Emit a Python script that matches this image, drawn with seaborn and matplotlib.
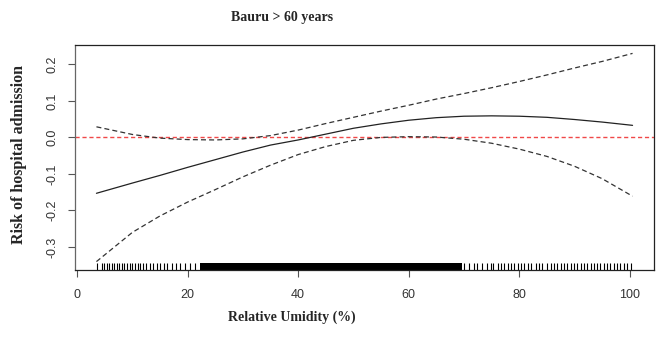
import matplotlib
matplotlib.use("Agg")
import matplotlib.pyplot as plt
import seaborn as sns

# Smoothed effect of relative humidity on hospital admissions (age > 60)
humidity = [3.5, 10, 15, 20, 25, 30, 35, 40, 45, 50, 55, 60, 65, 70,
            75, 80, 85, 90, 95, 100.5]
fit = [-0.153, -0.125, -0.104, -0.082, -0.061, -0.040, -0.021, -0.007,
       0.009, 0.025, 0.037, 0.047, 0.054, 0.058, 0.059, 0.058, 0.055,
       0.049, 0.042, 0.033]
upper = [0.029, 0.008, -0.002, -0.006, -0.007, -0.004, 0.005, 0.020,
         0.038, 0.055, 0.072, 0.088, 0.105, 0.120, 0.136, 0.153, 0.171,
         0.190, 0.208, 0.230]
lower = [-0.340, -0.260, -0.215, -0.177, -0.143, -0.108, -0.076, -0.047,
         -0.025, -0.008, 0.000, 0.002, 0.001, -0.005, -0.016, -0.032,
         -0.052, -0.079, -0.113, -0.161]

# Observed humidity values (rug)
rug_low = [3.55, 4.45, 4.9, 5.35, 5.8, 6.3, 6.7, 7.2, 7.6, 8.1, 8.5, 9.1,
           9.6, 10.0, 10.5, 11.0, 11.4, 12.0, 12.5, 13.1, 13.8, 14.4, 15.0,
           15.7, 16.3, 17.1, 17.9, 18.7, 19.5, 20.4, 21.3]
rug_dense = [23, 24, 25, 26, 27, 28, 29, 30, 31, 32, 33, 34, 35, 36, 37,
             38, 39, 40, 41, 42, 43, 44, 45, 46, 47, 48, 49, 50, 51, 52, 53,
             54, 55, 56, 57, 58, 59, 60, 61, 62, 63, 64, 65, 66, 67, 68, 69]
rug_high = [70.0, 70.9, 71.8, 72.4, 73.3, 74.2, 74.9, 75.3, 76.1, 76.7,
            77.3, 77.9, 78.5, 79.1, 79.7, 80.3, 80.9, 81.6, 82.2, 83.0,
            83.6, 84.2, 85.1, 85.7, 86.3, 86.9, 87.5, 88.1, 88.7, 89.3,
            89.9, 90.5, 91.1, 91.7, 92.3, 92.9, 93.5, 94.1, 94.7, 95.3,
            95.9, 96.5, 97.1, 97.7, 98.3, 98.9, 99.5, 100.2]

x_ticks = [0, 20, 40, 60, 80, 100]
y_ticks = [-0.3, -0.2, -0.1, 0.0, 0.1, 0.2]
y_tick_labels = ["-0.3", "-0.2", "-0.1", "0.0", "0.1", "0.2"]

sns.set_theme(style="white")
plt.rcParams["font.family"] = ["Liberation Sans", "DejaVu Sans"]

fig = plt.figure(figsize=(6.62, 3.38), dpi=100)
ax = fig.add_axes([0.1133, 0.2012, 0.8746, 0.6657])

ax.axhline(0, color="#f04848", lw=1.0, dashes=(3, 2), zorder=1)

sns.lineplot(x=humidity, y=fit, ax=ax, color="#222222", lw=0.9)
sns.lineplot(x=humidity, y=upper, ax=ax, color="#333333", lw=0.9,
             dashes=False).lines[-1].set_dashes((4, 2.5))
sns.lineplot(x=humidity, y=lower, ax=ax, color="#333333", lw=0.9,
             dashes=False).lines[-1].set_dashes((4, 2.5))

sns.rugplot(x=rug_low, ax=ax, height=0.03, color="black", linewidth=0.8)
sns.rugplot(x=rug_high, ax=ax, height=0.03, color="black", linewidth=0.8)
sns.rugplot(x=rug_dense, ax=ax, height=0.03, color="black", linewidth=5.4,
            antialiased=False)

ax.set_xlim(-0.38, 104.38)
ax.set_ylim(-0.363, 0.253)
ax.set_xticks(x_ticks)
ax.set_xticklabels([str(t) for t in x_ticks])
ax.set_yticks(y_ticks)
ax.set_yticklabels(y_tick_labels, rotation=90, va="center")
ax.tick_params(axis="both", which="major", length=5, width=0.8,
               color="#555555", labelcolor="#333333", labelsize=9,
               bottom=True, left=True)
ax.tick_params(axis="x", pad=9)
ax.tick_params(axis="y", pad=7)
for side, sp in ax.spines.items():
    sp.set_color("#222222")
    sp.set_linewidth(0.9)
ax.spines["left"].set_color("#666666")
ax.set_xlabel("")
ax.set_ylabel("")

serif = ["Liberation Serif", "DejaVu Serif"]
fig.text(282 / 662, 1 - 17 / 338, "Bauru > 60 years", ha="center",
         va="center", fontsize=10, fontweight="bold", family=serif)
fig.text(292 / 662, 1 - 317 / 338, "Relative Umidity (%)", ha="center",
         va="center", fontsize=10, fontweight="bold", family=serif)
fig.text(19 / 662, 1 - 155 / 338, "Risk of hospital admission",
         ha="center", va="center", rotation=90, fontsize=11.5,
         fontweight="bold", family=serif)

fig.savefig("out.png", dpi=100)
